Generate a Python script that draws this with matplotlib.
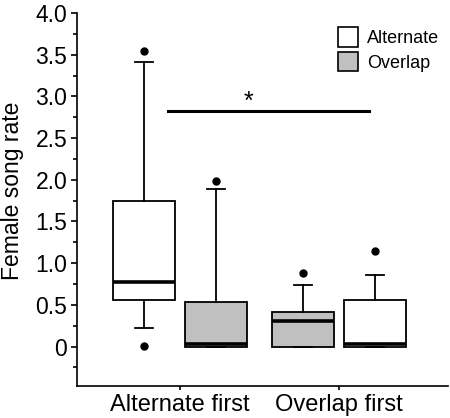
import numpy as np
import matplotlib.pyplot as plt
from matplotlib.patches import Patch

plt.rcParams['font.family'] = ['Liberation Sans', 'DejaVu Sans']

groups = ['Alternate first', 'Overlap first']
treatments = ['Alternate', 'Overlap']
colors = {'Alternate': 'white', 'Overlap': '#c0c0c0'}

# box stats, one entry per box
box_group = [0, 0, 1, 1]
box_treat = ['Alternate', 'Overlap', 'Overlap', 'Alternate']
whislo = [0.22, 0.0, 0.0, 0.0]
q1 = [0.56, 0.0, 0.0, 0.0]
med = [0.77, 0.03, 0.31, 0.03]
q3 = [1.74, 0.54, 0.42, 0.56]
whishi = [3.41, 1.89, 0.74, 0.86]
fliers = [[3.54, 0.01], [1.99], [0.88], [1.15]]

sig_y = 2.83
sig_x = [0.925, 2.19]

fig, ax = plt.subplots(figsize=(4.5, 4.18), dpi=100)
fig.subplots_adjust(left=0.171, right=0.996, top=0.969, bottom=0.077)

offs = [-0.225, 0.225, -0.225, 0.225]
for i in range(4):
    st = [dict(whislo=whislo[i], q1=q1[i], med=med[i], q3=q3[i],
               whishi=whishi[i], fliers=fliers[i])]
    pos = [box_group[i] + 1 + offs[i]]
    ax.bxp(st, positions=pos, widths=0.39, patch_artist=True, showfliers=True,
           boxprops=dict(facecolor=colors[box_treat[i]], edgecolor='black', linewidth=1.3),
           medianprops=dict(color='black', linewidth=2.6),
           whiskerprops=dict(color='black', linewidth=1.3),
           capprops=dict(color='black', linewidth=1.3),
           capwidths=0.115,
           flierprops=dict(marker='o', markerfacecolor='black', markeredgecolor='black',
                           markersize=5))

ax.plot(sig_x, [sig_y, sig_y], color='black', linewidth=2.2)
ax.text(1.43, 2.85, '*', ha='center', va='baseline', fontsize=18)

ax.set_xlim(0.352, 2.686)
ax.set_ylim(-0.47, 4.0)
ax.set_xticks([1, 2])
ax.set_xticklabels(groups, fontsize=17)
ax.set_yticks(np.arange(0, 4.01, 0.5))
ax.set_yticklabels(['0'] + ['%.1f' % v for v in np.arange(0.5, 4.01, 0.5)], fontsize=16.5)
ax.set_yticks(np.arange(-0.25, 4.0, 0.5), minor=True)
ax.tick_params(axis='y', which='major', length=4, width=1.2, pad=3)
ax.tick_params(axis='y', which='minor', length=3, width=1.2)
ax.tick_params(axis='x', length=3, width=1.2, pad=3)
ax.set_ylabel('Female song rate', fontsize=16.5)
ax.yaxis.set_label_coords(-0.142, 0.523)
for s in ['top', 'right']:
    ax.spines[s].set_visible(False)
for s in ['left', 'bottom']:
    ax.spines[s].set_linewidth(1.2)

handles = [Patch(facecolor=colors[t], edgecolor='black', linewidth=1.2) for t in treatments]
ax.legend(handles, treatments, loc='upper right', frameon=False, fontsize=13,
          handlelength=1.1, handleheight=1.3, handletextpad=0.5, labelspacing=0.25,
          bbox_to_anchor=(1.02, 1.005))

fig.savefig('out.png', dpi=100)
